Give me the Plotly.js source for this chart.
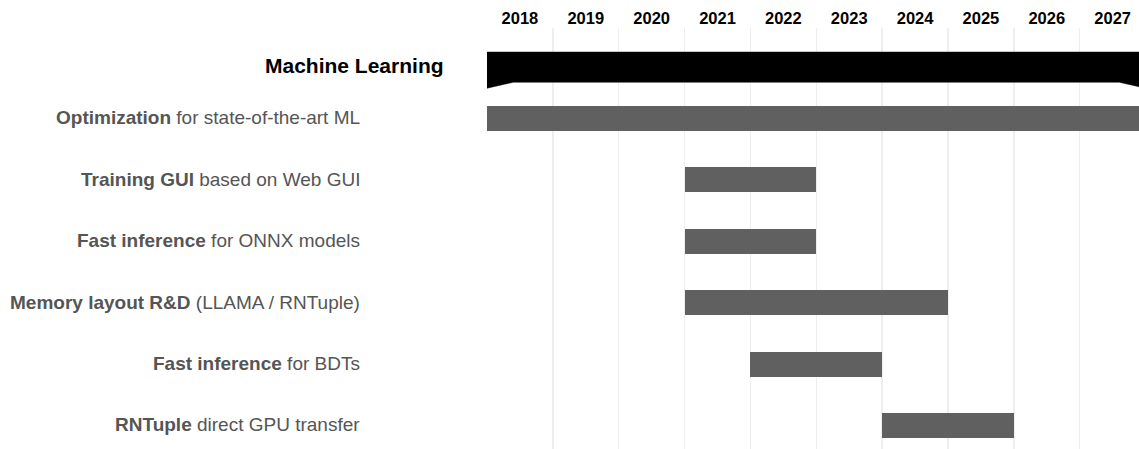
<!DOCTYPE html>
<html>
<head>
<meta charset="utf-8">
<script src="https://cdn.plot.ly/plotly-3.0.1.min.js"></script>
<style>html,body{margin:0;padding:0;background:#fff;overflow:hidden}#chart{width:1139px;height:449px}</style>
</head>
<body>
<div id="chart"></div>
<script>
// ---- data ----
const groupName = "Machine Learning";
const groupStart = 2018;
const groupEnd = 2028;

const taskBold = ["Optimization", "Training GUI", "Fast inference", "Memory layout R&D", "Fast inference", "RNTuple"];
const taskRest = [" for state-of-the-art ML", " based on Web GUI", " for ONNX models", " (LLAMA / RNTuple)", " for BDTs", " direct GPU transfer"];
const taskStart = [2018, 2021, 2021, 2021, 2022, 2024];
const taskEnd   = [2028, 2023, 2023, 2025, 2024, 2026];

const years = [2018, 2019, 2020, 2021, 2022, 2023, 2024, 2025, 2026, 2027];

// ---- layout helpers (positions / styles) ----
const rowPos = [1, 2, 3, 4, 5, 6].map(v => v + 0.02 * (v - 1));
const groupPos = 0.15;
const groupHalf = 0.25, groupTaperY = 0.1, groupTaperX = 0.4;
const barWidth = 0.415;
const FONT = "Liberation Sans, Arial, Helvetica, sans-serif";

const traces = [];

// group summary bar (tapered ends)
const gx = [groupStart, groupEnd, groupEnd, groupEnd - groupTaperX, groupStart + groupTaperX, groupStart, groupStart];
const gy = [groupPos - groupHalf, groupPos - groupHalf, groupPos + groupHalf + groupTaperY,
            groupPos + groupHalf, groupPos + groupHalf, groupPos + groupHalf + groupTaperY, groupPos - groupHalf];
traces.push({
  type: "scatter", mode: "lines", x: gx, y: gy, fill: "toself",
  fillcolor: "#000000", line: {color: "#000000", width: 0.5},
  hoverinfo: "skip", showlegend: false, xaxis: "x", yaxis: "y"
});

// task bars
traces.push({
  type: "bar", orientation: "h",
  y: rowPos,
  base: taskStart,
  x: taskEnd.map((e, i) => e - taskStart[i]),
  width: barWidth,
  marker: {color: "#606060", line: {width: 0}},
  hoverinfo: "skip", showlegend: false, xaxis: "x", yaxis: "y"
});

// invisible trace for top year-label axis
traces.push({
  type: "scatter", mode: "markers", x: [years[0] + 0.5], y: [groupPos],
  marker: {opacity: 0}, hoverinfo: "skip", showlegend: false, xaxis: "x2", yaxis: "y"
});

const annotations = [];
const L = 487, W = 652;
annotations.push({
  xref: "paper", yref: "y", x: (446 - L) / W, y: groupPos - 0.02,
  xanchor: "right", yanchor: "middle", showarrow: false,
  text: "<b>" + groupName + "</b>",
  font: {family: FONT, size: 21, color: "#000000"}
});
taskBold.forEach((b, i) => {
  annotations.push({
    xref: "paper", yref: "y", x: (362 - L) / W, y: rowPos[i] - 0.01,
    xanchor: "right", yanchor: "middle", showarrow: false,
    text: "<b>" + b.replace("&", "&amp;") + "</b>" + taskRest[i],
    font: {family: FONT, size: 19, color: "#555555"}
  });
});

const xr = [2018, 2027.9];
const layout = {
  width: 1139, height: 449,
  margin: {l: L, r: 0, t: 28, b: 0, pad: 0},
  paper_bgcolor: "#ffffff", plot_bgcolor: "#ffffff",
  bargap: 0,
  xaxis: {
    range: xr, tickmode: "array", tickvals: years,
    showticklabels: false, showgrid: true, gridcolor: "#eeeeee", gridwidth: 1.5,
    zeroline: false, showline: false, ticks: ""
  },
  xaxis2: {
    overlaying: "x", matches: "x", range: xr, side: "top",
    tickmode: "array", tickvals: years.map(y => y + 0.5), ticktext: years.map(String),
    showgrid: false, zeroline: false, showline: false, ticks: "",
    tickfont: {family: FONT, size: 16.5, color: "#000000", weight: "bold"}
  },
  yaxis: {
    range: [6.49, -0.5], showticklabels: false, showgrid: false,
    zeroline: false, showline: false, ticks: "", fixedrange: true
  },
  annotations: annotations,
  showlegend: false
};

Plotly.newPlot("chart", traces, layout, {displayModeBar: false, staticPlot: true});
</script>
</body>
</html>
